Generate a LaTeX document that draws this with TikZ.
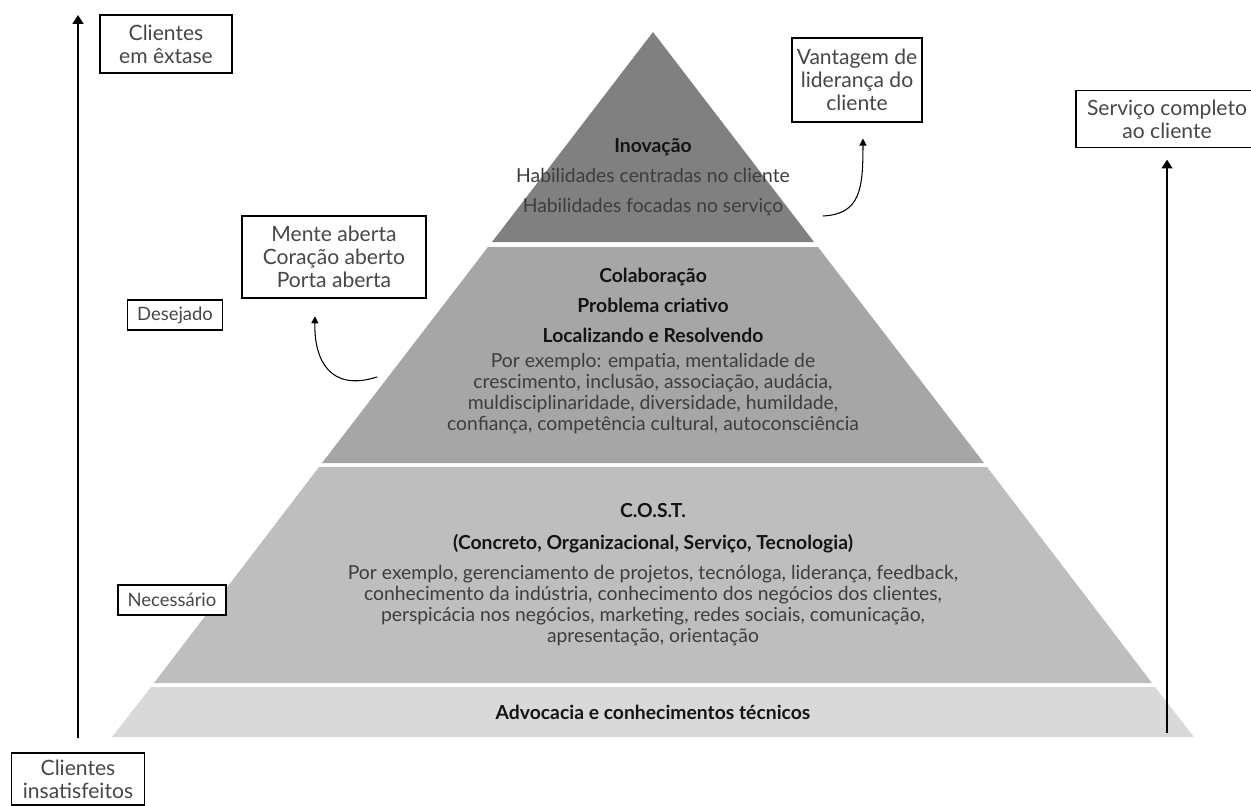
\documentclass[tikz,border=0pt]{standalone}
\usepackage{fontspec}
\setmainfont{Lato}
\usepackage{tikz}
\usetikzlibrary{arrows.meta,positioning}
\usepackage{xcolor}
\definecolor{bandtop}{gray}{0.50}
\definecolor{bandmid}{gray}{0.65}
\definecolor{bandlow}{gray}{0.745}
\definecolor{bandbase}{gray}{0.85}
\newcommand{\hdr}[1]{{\color{black!92}\textbf{#1}}}

\begin{document}
\begin{tikzpicture}[
  x=0.02cm, y=-0.02cm,
  font=\fontsize{11}{12}\selectfont,
  box/.style={draw, line width=0.8pt, fill=white, align=center, text=black!72,
              inner sep=1pt, font=\fontsize{12}{13}\selectfont},
  tag/.style={box, font=\fontsize{10.5}{12}\selectfont},
  lvl/.style={align=center, text=black!76, inner sep=0pt},
  axis/.style={-{Triangle[length=5pt,width=6pt]}, line width=1.6pt},
  hook/.style={-{Triangle[length=4pt,width=4pt]}, line width=0.6pt}
]
\useasboundingbox (0,0) rectangle (1251,805);

\fill[bandtop] (653,32) -- (814,242) -- (492,242) -- cycle;
\fill[bandmid] (488,247) -- (818,247) -- (984,463) -- (322,463) -- cycle;
\fill[bandlow] (319,467) -- (987,467) -- (1152,683) -- (154,683) -- cycle;
\fill[bandbase] (151,687) -- (1155,687) -- (1194,737) -- (112,737) -- cycle;

\node[lvl] (inov) at (653,177) {\hdr{Inovação}\\[5pt]
  Habilidades centradas no cliente\\[5pt]
  Habilidades focadas no serviço};
\node[lvl] (colab) at (653,351) {\hdr{Colaboração}\\[5pt]
  \hdr{Problema criativo}\\[5pt]
  \hdr{Localizando e Resolvendo}\\[2pt]
  Por exemplo: empatia, mentalidade de\\
  crescimento, inclusão, associação, audácia,\\
  muldisciplinaridade, diversidade, humildade,\\
  confiança, competência cultural, autoconsciência};
\node[lvl] (cost) at (653,575) {\hdr{C.O.S.T.}\\[6pt]
  \hdr{(Concreto, Organizacional, Serviço, Tecnologia)}\\[5pt]
  Por exemplo, gerenciamento de projetos, tecnóloga, liderança, feedback,\\
  conhecimento da indústria, conhecimento dos negócios dos clientes,\\
  perspicácia nos negócios, marketing, redes sociais, comunicação,\\
  apresentação, orientação};
\node[lvl] (advoc) at (653,712) {\hdr{Advocacia e conhecimentos técnicos}};

\node[box, minimum width=2.64cm, minimum height=1.16cm] (extase) at (166,44) {Clientes\\em êxtase};
\node[tag, minimum width=1.9cm, minimum height=0.6cm] (desejado) at (175,315) {Desejado};
\node[tag, minimum width=2.16cm, minimum height=0.6cm] (necess) at (172,600) {Necessário};
\node[box, minimum width=2.66cm, minimum height=1.04cm] (insat) at (78,779) {Clientes\\insatisfeitos};
\node[box, minimum width=3.68cm, minimum height=1.64cm] (mente) at (334,257) {Mente aberta\\Coração aberto\\Porta aberta};
\node[box, minimum width=2.6cm, minimum height=1.68cm] (vantagem) at (857,80) {Vantagem de\\liderança do\\cliente};
\node[box, minimum width=3.64cm, minimum height=1.14cm] (servico) at (1167,119) {Serviço completo\\ao cliente};

\coordinate (lbot) at (78,738);
\coordinate (ltop) at (78,15);
\coordinate (rbot) at (1167,733);
\coordinate (mstart) at (377,377);
\coordinate (vstart) at (823,216);

\draw[axis] (lbot) -- (ltop);
\draw[axis, shorten >=6.5pt] (rbot) -- (servico.south);
\draw[hook] (mstart) .. controls (330,392) and (314,360) .. ([xshift=-10.8pt,yshift=-10pt]mente.south);
\draw[hook] (vstart) .. controls (860,214) and (863,190) .. ([xshift=3.4pt,yshift=-9pt]vantagem.south);
\end{tikzpicture}
\end{document}
